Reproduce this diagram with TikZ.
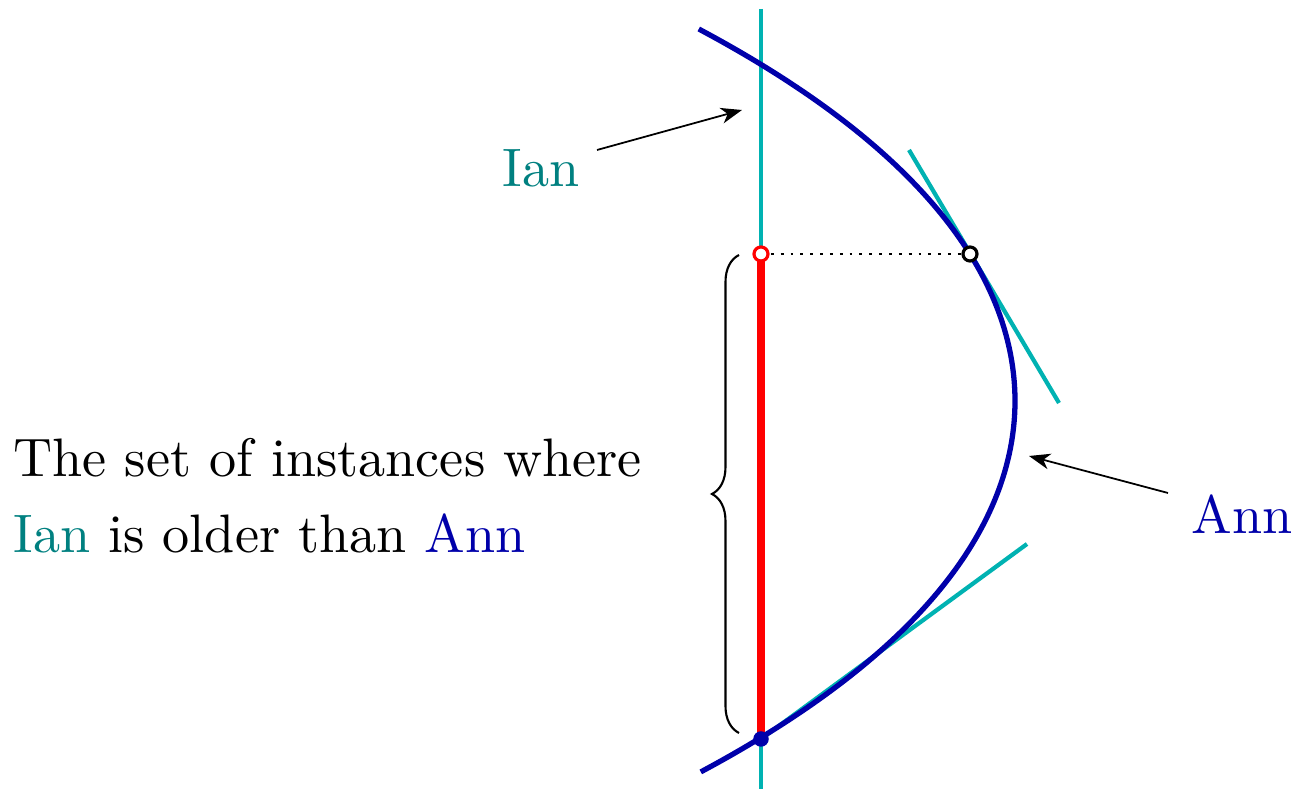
\documentclass[tikz,border=0pt]{standalone}
\usetikzlibrary{arrows.meta,decorations.pathreplacing}
\definecolor{ianline}{RGB}{0,178,178}
\definecolor{iantext}{RGB}{0,128,128}
\definecolor{anncol}{RGB}{0,0,170}
\newcommand{\bigtxt}[1]{\scalebox{1.54}{\fontsize{10}{12}\selectfont #1}}
\begin{document}
\begin{tikzpicture}[x=0.01cm,y=-0.01cm,
  lbl/.style={inner sep=0pt, anchor=base west},
  ianln/.style={draw=ianline, line width=1.2pt},
  annln/.style={draw=anncol, line width=1.5pt},
  ptr/.style={draw=black, line width=0.5pt, -{Stealth[length=6pt,width=4.5pt,inset=1.8pt]}},
  openmark/.style={circle, inner sep=0pt, minimum size=0.14cm, fill=white, line width=0.9pt},
  fullmark/.style={circle, inner sep=0pt, minimum size=0.155cm, fill=anncol},
  bracestyle/.style={decorate, decoration={brace, amplitude=0.27cm}, line width=0.6pt}
]
\useasboundingbox (0,0) rectangle (1296,789);

% coordinates
\coordinate (vtop) at (761,9);
\coordinate (vbot) at (761,789);
\coordinate (ptop) at (761,254);
\coordinate (pbot) at (761,739);
\coordinate (ptan) at (970,254);
\coordinate (t1a) at (909,150);
\coordinate (t1b) at (1059,403);
\coordinate (t2b) at (1027,544);

% Ian's line and tangents
\draw[ianln] (vtop) -- (vbot);
\draw[ianln] (t1a) -- (t1b);
\draw[ianln] (pbot) -- (t2b);

% Ann's curve
\draw[annln] plot[smooth, domain=-3.72:3.71, samples=100, variable=\v]
  ({1015 - 20.5*\v*\v - 0.17*\v*\v*\v*\v}, {401 + 100*\v});

% red segment
\draw[red, line width=2.4pt] (ptop) -- (pbot);

% dotted connector
\draw[dotted, line width=0.8pt] (ptop) -- (ptan);

% marks
\node[openmark, draw=red] (mtop) at (ptop) {};
\node[openmark, draw=black] (mtan) at (ptan) {};
\node[fullmark] (mbot) at (pbot) {};

% brace
\coordinate (bb) at (739,733);
\coordinate (bt) at (739,255);
\draw[bracestyle] (bb) -- (bt);

% labels
\node[lbl] (t1) at (13,477) {\bigtxt{The set of instances where}};
\node[lbl] (t2) at (13,553) {\bigtxt{\textcolor{iantext}{Ian} is older than \textcolor{anncol}{Ann}}};
\node[lbl, text=iantext] (ian) at (502,187) {\bigtxt{Ian}};
\node[lbl, text=anncol] (ann) at (1191,534) {\bigtxt{Ann}};

% pointers
\coordinate (ianfrom) at (597,150);
\coordinate (ianto) at (742,110);
\coordinate (annfrom) at (1168,493);
\coordinate (annto) at (1029,456);
\draw[ptr] (ianfrom) -- (ianto);
\draw[ptr] (annfrom) -- (annto);
\end{tikzpicture}
\end{document}
